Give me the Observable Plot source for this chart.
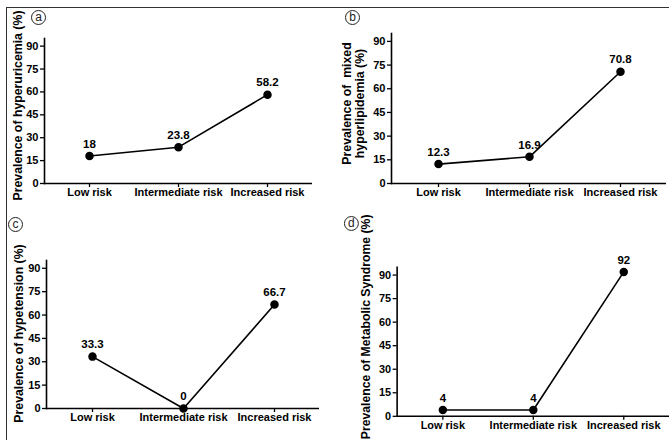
<!DOCTYPE html>
<html>
<head>
<meta charset="utf-8">
<script src="https://cdn.jsdelivr.net/npm/d3@7"></script>
<script src="https://cdn.jsdelivr.net/npm/@observablehq/plot@0.6"></script>
<style>
  html, body { margin: 0; padding: 0; background: white; }
  #wrap { position: relative; width: 669px; height: 440px; overflow: hidden; background: white; }
  .panel { position: absolute; }
  #frame { position: absolute; left: 6px; top: 7px; width: 700px; height: 500px;
           border-top: 1px solid #333; border-left: 1px solid #333; pointer-events: none; }
</style>
</head>
<body>
<div id="wrap"></div>
<script>
// ---- data ----
const categories = ["Low risk", "Intermediate risk", "Increased risk"];
const hyperuricemia = [18, 23.8, 58.2];
const mixedHyperlipidemia = [12.3, 16.9, 70.8];
const hypertension = [33.3, 0, 66.7];
const metabolicSyndrome = [4, 4, 92];
const yTicks = [0, 15, 30, 45, 60, 75, 90];
const panelLetters = ["a", "b", "c", "d"];
const yTitles = [
  "Prevalence of hyperuricemia (%)",
  "Prevalence of  mixed\nhyperlipidemia (%)",
  "Prevalence of hypetension (%)",
  "Prevalence of Metabolic Syndrome (%)"
];

// layout per panel
const layouts = [
  {left: 0,   top: 0,   width: 335, mL: 44, mR: 23, mT: 38, mB: 37, lx: 17, ly: 105, cx: 38, cy: 17},
  {left: 335, top: 0,   width: 334, mL: 56, mR: 3,  mT: 33, mB: 37, lx: 18, ly: 103, cx: 17, cy: 17},
  {left: 0,   top: 220, width: 335, mL: 46, mR: 16, mT: 40, mB: 32, lx: 18, ly: 113, cx: 15, cy: 4},
  {left: 335, top: 220, width: 336, mL: 62, mR: 0,  mT: 47, mB: 23, lx: 31, ly: 107, cx: 16, cy: 3}
];
const series = [hyperuricemia, mixedHyperlipidemia, hypertension, metabolicSyndrome];

const wrap = document.getElementById("wrap");

series.forEach((vals, i) => {
  const L = layouts[i];
  const data = categories.map((c, j) => ({cat: c, value: vals[j]}));
  const chart = Plot.plot({
    width: L.width,
    height: 220,
    marginLeft: L.mL,
    marginRight: L.mR,
    marginTop: L.mT,
    marginBottom: L.mB,
    style: {
      fontFamily: "'Liberation Sans', Arial, sans-serif",
      fontSize: "11px",
      fontWeight: "bold",
      background: "transparent",
      overflow: "visible",
      color: "black"
    },
    x: {type: "point", domain: categories, padding: 0.5},
    y: {domain: [0, 95]},
    marks: [
      Plot.axisX({tickSize: 4, tickPadding: 1, label: null, fontSize: 11, fontWeight: "bold", strokeWidth: 1.3}),
      Plot.axisY({ticks: yTicks, tickSize: 4, tickPadding: 2, label: null, fontSize: 11, fontWeight: "bold", strokeWidth: 1.3}),
      Plot.frame({anchor: "left", stroke: "black", strokeWidth: 1.6}),
      Plot.ruleY([0], {stroke: "black", strokeWidth: 1.6}),
      Plot.line(data, {x: "cat", y: "value", stroke: "black", strokeWidth: 1.6}),
      Plot.dot(data, {x: "cat", y: "value", r: 3.5, fill: "black", stroke: "black"}),
      Plot.text(data, {x: "cat", y: "value", text: d => String(d.value), dy: -12,
                       fontSize: 11.5, fontWeight: "bold", fill: "black"}),
      Plot.text([yTitles[i]], {frameAnchor: "top-left", text: d => d,
                       dx: L.lx - L.mL, dy: L.ly - L.mT, rotate: -90,
                       textAnchor: "middle", lineAnchor: "middle", lineHeight: 1.06,
                       fontSize: 12.3, fontWeight: "bold", fill: "black"}),
      Plot.dot([panelLetters[i]], {frameAnchor: "top-left", dx: L.cx - L.mL, dy: L.cy - L.mT,
                       r: 7, stroke: "#222", strokeWidth: 1, fill: "none"}),
      Plot.text([panelLetters[i]], {frameAnchor: "top-left", text: d => d,
                       dx: L.cx - L.mL, dy: L.cy - L.mT - 0.5,
                       textAnchor: "middle", lineAnchor: "middle",
                       fontSize: 12, fontWeight: "normal", fill: "#222"})
    ]
  });
  const div = document.createElement("div");
  div.className = "panel";
  div.style.left = L.left + "px";
  div.style.top = L.top + "px";
  div.appendChild(chart);
  wrap.appendChild(div);
});

const frame = document.createElement("div");
frame.id = "frame";
wrap.appendChild(frame);
</script>
</body>
</html>
